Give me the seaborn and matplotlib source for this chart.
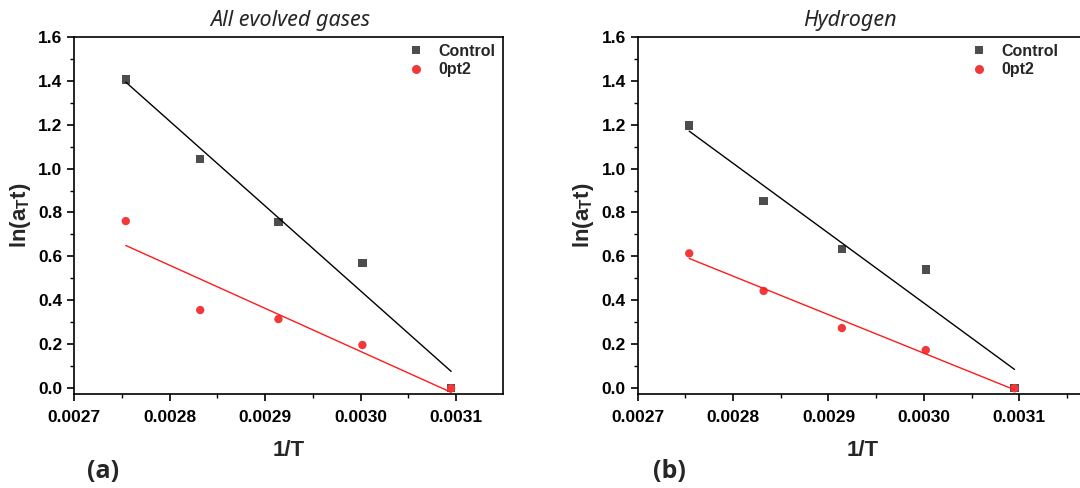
import numpy as np
import pandas as pd
import matplotlib
matplotlib.use("Agg")
import matplotlib.pyplot as plt
from matplotlib.lines import Line2D
from matplotlib.ticker import MultipleLocator, FixedLocator, FormatStrFormatter
import seaborn as sns

# ---- data -------------------------------------------------------------
inv_T = [0.002754, 0.002832, 0.002914, 0.003002, 0.003095]   # 1/T (90..50 °C)
samples = ["Control", "0pt2"]

gases_control = [1.405, 1.042, 0.758, 0.569, 0.0]
gases_0pt2 = [0.761, 0.356, 0.315, 0.197, 0.0]
h2_control = [1.196, 0.852, 0.633, 0.540, 0.0]
h2_0pt2 = [0.614, 0.443, 0.274, 0.174, 0.0]

panel_titles = ["All evolved gases", "Hydrogen"]
panel_tags = ["(a)", "(b)"]
x_ticks = [0.0027, 0.0028, 0.0029, 0.0030, 0.0031]
y_ticks = [0.0, 0.2, 0.4, 0.6, 0.8, 1.0, 1.2, 1.4, 1.6]

panel_values = [
    {"Control": gases_control, "0pt2": gases_0pt2},
    {"Control": h2_control, "0pt2": h2_0pt2},
]

rows = []
for p, vals in enumerate(panel_values):
    for s in samples:
        for x, y in zip(inv_T, vals[s]):
            rows.append({"panel": p, "sample": s, "inv_T": x, "value": y})
df = pd.DataFrame(rows)

# ---- style ------------------------------------------------------------
sns.set_style("ticks")
plt.rcParams["font.family"] = ["Liberation Sans", "DejaVu Sans"]
plt.rcParams["font.weight"] = "bold"
plt.rcParams["axes.linewidth"] = 1.2
plt.rcParams["xtick.major.width"] = 1.2
plt.rcParams["ytick.major.width"] = 1.2
plt.rcParams["xtick.minor.width"] = 1.0
plt.rcParams["ytick.minor.width"] = 1.0
plt.rcParams["xtick.color"] = "black"
plt.rcParams["ytick.color"] = "black"
plt.rcParams["axes.edgecolor"] = "black"

marker_color = {"Control": "#4d4d4d", "0pt2": "#f03a3a"}
line_color = {"Control": "black", "0pt2": "#ff1a1a"}
markers = {"Control": "s", "0pt2": "o"}
marker_area = {"Control": 36, "0pt2": 44}

W, H = 1080, 488
fig = plt.figure(figsize=(W / 100, H / 100), dpi=100)

# axes boxes in pixels: left, top, right, bottom
px_per_unit = 95.4 / 0.0001
boxes = [(74.3, 36.7, 503.0, 394.0), (637.7, 36.7, 1088.0, 394.0)]
title_x_px = [290.0, 850.0]
tag_x_px = [103.0, 669.0]
legend_anchor_px = [(408.0, 44.0), (971.5, 44.0)]

for p, (l, t, r, b) in enumerate(boxes):
    ax = fig.add_axes([l / W, 1 - b / H, (r - l) / W, (b - t) / H])
    sub = df[df["panel"] == p]

    sns.scatterplot(
        data=sub, x="inv_T", y="value", hue="sample", style="sample",
        hue_order=samples, style_order=samples,
        palette=marker_color, markers=markers, s=50, linewidth=0,
        legend=False, ax=ax, zorder=2,
    )
    # per-sample marker size
    for coll, s in zip(ax.collections, samples):
        coll.set_sizes([marker_area[s]])

    for s in samples:
        d = sub[sub["sample"] == s]
        sns.regplot(
            data=d, x="inv_T", y="value", scatter=False, ci=None,
            truncate=True, color=line_color[s], ax=ax,
            line_kws={"linewidth": 1.0, "zorder": 3},
        )

    ax.set_xlim(0.0027, 0.0027 + (r - l) / px_per_unit)
    ax.set_ylim(-0.026, 1.6)
    ax.xaxis.set_major_locator(FixedLocator(x_ticks))
    ax.xaxis.set_minor_locator(MultipleLocator(0.00005))
    ax.yaxis.set_major_locator(FixedLocator(y_ticks))
    ax.yaxis.set_minor_locator(MultipleLocator(0.1))
    ax.xaxis.set_major_formatter(FormatStrFormatter("%.4f"))
    ax.yaxis.set_major_formatter(FormatStrFormatter("%.1f"))
    ax.tick_params(which="major", direction="out", length=5, labelsize=12.5,
                   top=False, right=False)
    ax.tick_params(axis="x", which="major", pad=6.5)
    ax.tick_params(axis="y", which="major", pad=3.5)
    ax.tick_params(which="minor", direction="out", length=3, top=False, right=False)
    for lab in ax.get_xticklabels() + ax.get_yticklabels():
        lab.set_fontweight("bold")

    for side in ["top", "right", "left", "bottom"]:
        ax.spines[side].set_visible(True)

    ax.set_xlabel("1/T", fontsize=16, fontweight="bold", labelpad=10.5)
    ax.set_ylabel(r"ln(a$_\mathregular{T}$t)", fontsize=16, fontweight="bold",
                  labelpad=4)

    ax.text((title_x_px[p] - l) / (r - l), 1 + 11 / (b - t), panel_titles[p],
            transform=ax.transAxes, ha="center", va="baseline",
            family="Noto Sans", style="italic", fontweight="normal", fontsize=15.5)

    fig.text(tag_x_px[p] / W, 1 - 471 / H, panel_tags[p], ha="center", va="center",
             family="Open Sans", fontweight="bold", fontsize=18)

    handles = [
        Line2D([], [], linestyle="none", marker=markers[s], markersize=6 if s == "Control" else 6.5,
               markerfacecolor=marker_color[s], markeredgewidth=0)
        for s in samples
    ]
    ax_, ay_ = legend_anchor_px[p]
    ax.legend(handles, samples, loc="upper left",
              bbox_to_anchor=(ax_ / W, 1 - ay_ / H), bbox_transform=fig.transFigure,
              frameon=False, borderpad=0, borderaxespad=0, handlelength=1.0,
              handletextpad=0.9, labelspacing=0.2,
              prop={"family": "Liberation Sans", "weight": "bold", "size": 11.5})

fig.savefig("out.png", dpi=100)
